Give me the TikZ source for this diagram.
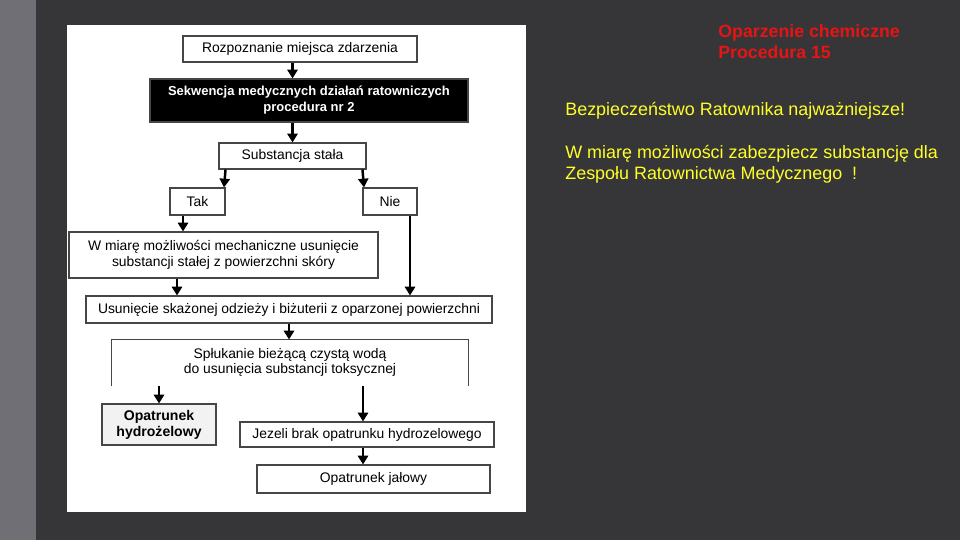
\documentclass[tikz,border=0pt]{standalone}
\usepackage{fontspec}
\setmainfont{Liberation Sans}
\usepackage{xcolor}
\usepackage{tikz}
\usetikzlibrary{arrows.meta,positioning,calc}
\definecolor{slidebg}{RGB}{54,54,56}
\definecolor{stripgray}{RGB}{112,111,117}
\definecolor{boxline}{RGB}{70,70,70}
\definecolor{hydrofill}{RGB}{242,242,242}
\definecolor{titlered}{RGB}{230,20,20}
\definecolor{noteyellow}{RGB}{255,255,40}

\begin{document}
\begin{tikzpicture}[
  font=\fontsize{7.9}{9}\selectfont,
  >={Triangle[length=5pt,width=5.8pt]},
  every node/.style={align=center},
  base/.style    = {draw=boxline, line width=0.6pt, fill=white, text centered, inner sep=1pt},
  flownd/.style  = {base, minimum height=0.52cm},
  twond/.style   = {base, minimum height=0.90cm},
  blacknd/.style = {base, fill=black, text=white, font=\fontsize{7.4}{9.2}\selectfont\bfseries},
  hydrond/.style = {base, fill=hydrofill, font=\fontsize{8}{9.2}\selectfont\bfseries},
  arr/.style     = {->, line width=1.4pt},
  titlend/.style = {anchor=base west, align=left, text=titlered, inner sep=0pt,
                    font=\fontsize{10.1}{12}\selectfont\bfseries},
  notend/.style  = {anchor=base west, align=left, text=noteyellow,
                    font=\fontsize{10.2}{12.5}\selectfont, inner sep=0pt}
]

%% ===== slide background =====
\fill[slidebg] (0,0) rectangle (19.2,10.8);
\fill[stripgray] (0,0) rectangle (0.72,10.8);
\fill[white] (1.34,0.56) rectangle (10.52,10.30);
\useasboundingbox (0,0) rectangle (19.2,10.8);

%% ===== flow chart =====
\node[flownd, minimum width=4.68cm] (rozp) at (6.00, 9.82)
  {Rozpoznanie miejsca zdarzenia};
\node[blacknd, minimum width=6.36cm, minimum height=0.86cm] (sekw) at (6.18, 8.79)
  {Sekwencja medycznych działań ratowniczych \\ procedura nr 2};
\node[flownd, minimum width=2.94cm] (subst) at (5.85, 7.68)
  {Substancja stała};
\node[flownd, minimum width=1.10cm, minimum height=0.54cm] (tak) at (3.95, 6.77) {Tak};
\node[flownd, minimum width=1.08cm, minimum height=0.54cm] (nie) at (7.80, 6.77) {Nie};
\node[twond, minimum width=6.18cm, minimum height=0.92cm] (mech) at (4.47, 5.70)
  {W miarę możliwości mechaniczne usunięcie \\ substancji stałej z powierzchni skóry};
\node[flownd, minimum width=8.12cm, minimum height=0.54cm] (usun) at (5.78, 4.61)
  {Usunięcie skażonej odzieży i biżuterii z oparzonej powierzchni};
\node[twond, draw=none, minimum width=7.12cm] (splu) at (5.80, 3.55)
  {Spłukanie bieżącą czystą wodą \\ do usunięcia substancji toksycznej};
\draw[boxline, line width=0.6pt] (splu.south west) |- (splu.north east) -- (splu.south east);
\node[hydrond, minimum width=2.28cm, minimum height=0.82cm] (hydro) at (3.18, 2.31)
  {Opatrunek \\ hydrożelowy};
\node[flownd, minimum width=5.08cm, minimum height=0.50cm] (jez) at (7.34, 2.11)
  {Jezeli brak opatrunku hydrozelowego};
\node[flownd, minimum width=4.66cm, minimum height=0.56cm] (jal) at (7.47, 1.22)
  {Opatrunek jałowy};

\draw[arr] (rozp.south -| subst.north) -- (sekw.north -| subst.north);
\draw[arr] (sekw.south -| subst.north) -- (subst.north);
\draw[arr] (subst.south -| tak.north east) -- ([xshift=-0.03cm]tak.north east);
\draw[arr] (subst.south -| nie.north west) -- ([xshift=0.03cm]nie.north west);
\draw[arr] ([xshift=-0.29cm]tak.south) -- ([xshift=-0.29cm]tak.south |- mech.north);
\draw[arr] ([xshift=-0.93cm]mech.south) -- ([xshift=-0.93cm]mech.south |- usun.north);
\draw[arr] ([xshift=0.40cm]nie.south) -- ([xshift=0.40cm]nie.south |- usun.north);
\draw[arr] (usun.south) -- (usun.south |- splu.north);
\draw[arr] (hydro.north |- splu.south) -- (hydro.north);
\draw[arr] ([xshift=-0.08cm]jez.north |- splu.south) -- ([xshift=-0.08cm]jez.north);
\draw[arr] ([xshift=-0.08cm]jez.south) -- ([xshift=-0.08cm]jez.south |- jal.north);

%% ===== notes on the right =====
\node[titlend] (title) at (14.36, 9.62) {Oparzenie chemiczne \\ Procedura 15};
\node[notend] (safe) at (11.30, 8.48) {Bezpieczeństwo Ratownika najważniejsze!};
\node[notend] (secure) at (11.30, 7.20)
  {W miarę możliwości zabezpiecz substancję dla \\ Zespołu Ratownictwa Medycznego\ \ !};

\end{tikzpicture}
\end{document}
